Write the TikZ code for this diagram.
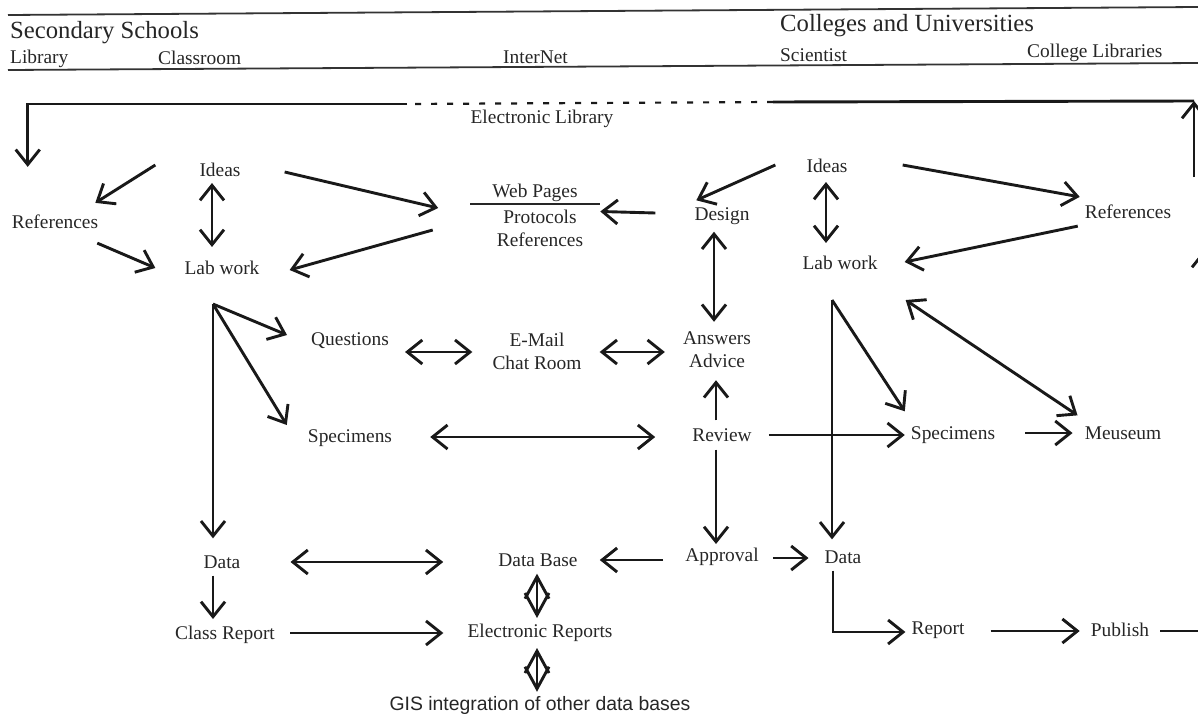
\documentclass[tikz,border=0pt]{standalone}
\usepackage{fontspec}
\setmainfont{Liberation Serif}
\newfontfamily\gisfont{Liberation Sans}
\usetikzlibrary{arrows.meta}

\begin{document}
\begin{tikzpicture}[x=1pt, y=-1pt, >={Straight Barb[length=15pt,width=24pt]},
  lbl/.style={font=\fontsize{19.4}{23}\selectfont, text=black!85, inner sep=2pt, align=center},
  hd/.style={font=\fontsize{24.7}{28}\selectfont, text=black!85, inner sep=0pt, anchor=west},
  sub/.style={lbl, inner sep=0pt, anchor=west},
  conn/.style={line width=2.9pt, black!90},
  rule/.style={line width=1.8pt, black!80},
  diam/.style={conn, {Straight Barb[length=22pt,width=24pt]}-{Straight Barb[length=22pt,width=24pt]}}]
\useasboundingbox (0,0) rectangle (1198,717);
\clip (0,0) rectangle (1198,717);
% Header:
\draw[rule] (8,15) -- (1198,7);
\draw[rule] (8,70) -- (1198,63);
\node[hd] (h1) at (10,33) {Secondary Schools};
\node[hd] (h2) at (780,26) {Colleges and Universities};
\node[sub] (s1) at (10,59) {Library};
\node[sub] (s2) at (158,58) {Classroom};
\node[sub] (s3) at (503,57) {InterNet};
\node[sub] (s4) at (780,55) {Scientist};
\node[sub] (s5) at (1027,53) {College Libraries};
% Nodes:
\node[lbl] (el1) at (542,119) {Electronic Library};
\node[lbl] (rf1) at (55,222) {References};
\node[lbl] (id1) at (220,170) {Ideas};
\node[lbl] (lw1) at (222,268) {Lab work};
\node[lbl] (wp1) at (535,193) {Web Pages};
\node[lbl] (wp2) at (540,228) {Protocols\\References};
\node[lbl] (dg1) at (722,216) {Design};
\node[lbl] (id2) at (827,166) {Ideas};
\node[lbl] (lw2) at (840,263) {Lab work};
\node[lbl] (rf2) at (1128,212) {References};
\node[lbl] (qu1) at (350,341) {Questions};
\node[lbl] (em1) at (537,351) {E-Mail\\Chat Room};
\node[lbl] (an1) at (717,350) {Answers\\Advice};
\node[lbl] (sp1) at (350,438) {Specimens};
\node[lbl] (rv1) at (722,435) {Review};
\node[lbl] (sp2) at (953,435) {Specimens};
\node[lbl] (mu1) at (1123,433) {Meuseum};
\node[lbl] (da1) at (222,562) {Data};
\node[lbl] (cr1) at (225,635) {Class Report};
\node[lbl] (db1) at (538,560) {Data Base};
\node[lbl] (er1) at (540,633) {Electronic Reports};
\node[lbl, font=\gisfont\fontsize{19.4}{23}\selectfont] (gi1) at (540,705) {GIS integration of other data bases};
\node[lbl] (ap1) at (722,557) {Approval};
\node[lbl] (da2) at (843,557) {Data};
\node[lbl] (rp1) at (938,630) {Report};
\node[lbl] (pb1) at (1120,630) {Publish};
\draw[line width=1.5pt, black!85] ([xshift=-65]wp1.south) -- ([xshift=65]wp1.south);
% Electronic library loop:
\coordinate (e1) at (1194,101);
\coordinate (e2) at (773,102);
\coordinate (e3) at (407,104);
\coordinate (c1) at (1194,177);
\coordinate (c2) at (1204,300);
\coordinate (c3) at (1204,250);
\coordinate (c4) at (1198,631);
\draw[conn, ->] (c1) -- (e1);
\draw[conn] (e1) -- (e2);
\draw[conn, line width=2.2pt, dash pattern=on 6pt off 10pt] (e2) -- (e3);
\draw[conn, ->] (e3) -| ([shift={(18,-46)}]rf1.north west);
\draw[conn, ->] (c2) -- (c3);
% Classroom:
\draw[conn, ->] ([shift={(-42,-5)}]id1.west) -- ([shift={(-5,-10)}]rf1.north east);
\draw[conn, <->] ([shift={(-8,4)}]id1.south) -- ([shift={(-10,-12)}]lw1.north);
\draw[conn, ->] ([shift={(-3,12)}]rf1.south east) -- ([shift={(-27,0)}]lw1.west);
\draw[conn, ->] ([shift={(42,2)}]id1.east) -- ([shift={(-52,4)}]wp1.south west);
\draw[conn, ->] ([shift={(-62,2)}]wp2.west) -- ([shift={(28,2)}]lw1.east);
\coordinate (f1) at ([shift={(-9,27)}]lw1.south);
\draw[conn, ->] (f1) -- ([shift={(-22,-6)}]qu1.west);
\draw[conn, ->] (f1) -- ([shift={(-19,-13)}]sp1.west);
\draw[conn, ->] (f1) -- ([shift={(-9,-15)}]da1.north);
\draw[conn, <->] ([shift={(48,0)}]da1.east) -- ([shift={(-53,2)}]db1.west);
\draw[conn, ->] ([shift={(-9,5)}]da1.south) -- ([shift={(-12,-5)}]cr1.north);
\draw[conn, ->] ([shift={(13,-2)}]cr1.east) -- ([shift={(-22,0)}]er1.west);
% InterNet:
\draw[conn, <->] ([shift={(14,11)}]qu1.east) -- ([shift={(-18,1)}]em1.west);
\draw[conn, <->] ([shift={(16,1)}]em1.east) -- ([shift={(-16,2)}]an1.west);
\draw[conn, <->] ([shift={(36,-1)}]sp1.east) -- ([shift={(-35,2)}]rv1.west);
\draw[diam] ([shift={(-1,5)}]db1.south) -- ([shift={(-3,-4)}]er1.north);
\draw[diam] ([shift={(-3,4)}]er1.south) -- ([shift={(-3,-2)}]gi1.north);
% Scientist:
\draw[conn, ->] ([shift={(-37,-3)}]dg1.west) -- ([shift={(15,4)}]wp2.north east);
\draw[conn, ->] ([shift={(-29,-1)}]id2.west) -- ([shift={(4,-5)}]dg1.north west);
\draw[conn, <->] ([shift={(-1,7)}]id2.south) -- ([shift={(-14,-11)}]lw2.north);
\draw[conn, ->] ([shift={(53,-1)}]id2.east) -- ([shift={(-3,-6)}]rf2.north west);
\draw[conn, ->] ([shift={(-5,5)}]rf2.south west) -- ([shift={(25,-1)}]lw2.east);
\draw[conn, <->] ([shift={(-8,5)}]dg1.south) -- ([shift={(-3,-8)}]an1.north);
\draw[conn, ->] ([shift={(-6,-6)}]rv1.north) -- ([shift={(-1,10)}]an1.south);
\draw[conn, ->] ([shift={(15,0)}]rv1.east) -- ([shift={(-4,0)}]sp2.west);
\draw[conn, ->] ([shift={(-6,6)}]rv1.south) -- ([shift={(-6,-2)}]ap1.north);
\coordinate (f2) at ([shift={(-8,28)}]lw2.south);
\draw[conn, ->] (f2) -- ([shift={(-4,-13)}]sp2.north west);
\draw[conn, ->] (f2) -- ([shift={(-11,-9)}]da2.north);
\draw[conn, <->] ([shift={(26,28)}]lw2.south east) -- ([shift={(-5,-9)}]mu1.north west);
\draw[conn, ->] ([shift={(28,-2)}]sp2.east) -- ([shift={(-10,0)}]mu1.west);
\draw[conn, ->] ([shift={(-20,3)}]ap1.west) -- ([shift={(20,0)}]db1.east);
\draw[conn, ->] ([shift={(12,1)}]ap1.east) -- ([shift={(-14,1)}]da2.west);
\draw[conn, ->] ([shift={(-10,5)}]da2.south) |- ([shift={(-4,2)}]rp1.west);
\draw[conn, ->] ([shift={(24,1)}]rp1.east) -- ([shift={(-9,1)}]pb1.west);
\draw[conn] ([shift={(9,1)}]pb1.east) -- (c4);
\end{tikzpicture}
\end{document}
